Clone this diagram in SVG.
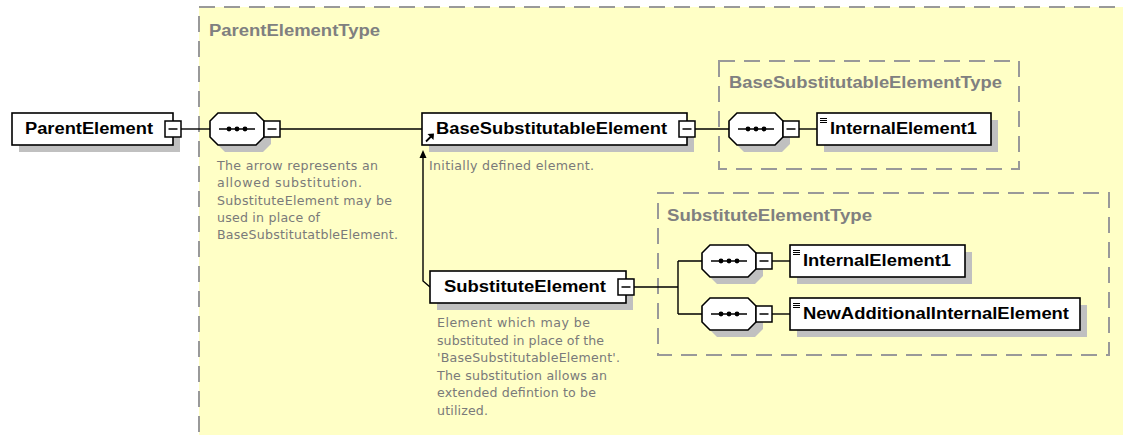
<svg xmlns="http://www.w3.org/2000/svg" xmlns:xlink="http://www.w3.org/1999/xlink" width="1123" height="435" viewBox="0 0 1123 435">
<style>
.type{fill:#ffffc6;stroke:#999;stroke-width:2;stroke-dasharray:16 9}
.typelbl{font-family:"Liberation Sans",Arial,sans-serif;font-weight:bold;font-size:16px;fill:#808080}
.box{fill:#fff;stroke:#000;stroke-width:1.6}
.shadow{fill:#c0c0c0;stroke:none}
.lbl{font-family:"Liberation Sans",Arial,sans-serif;font-weight:bold;font-size:16px;fill:#000}
.desc{font-family:"DejaVu Sans","Liberation Sans",sans-serif;font-size:12.6px;fill:#7a7a7a}
.conn{fill:none;stroke:#000;stroke-width:1.4}
.mbox{fill:#fff;stroke:#000;stroke-width:1.5}
</style>
<defs>
<path id="oct" d="M8,0 H46 L54,8 V24 L46,32 H8 L0,24 V8 Z"/>
<g id="seq">
<use xlink:href="#oct" class="shadow" x="7" y="7"/>
<use xlink:href="#oct" class="box"/>
<line x1="9" y1="16" x2="45" y2="16" stroke="#000" stroke-width="1.4"/>
<circle cx="19" cy="16" r="2.4" fill="#000"/>
<circle cx="27" cy="16" r="2.4" fill="#000"/>
<circle cx="35" cy="16" r="2.4" fill="#000"/>
</g>
<g id="minus">
<rect class="mbox" x="0" y="0" width="16" height="16"/>
<line x1="3.5" y1="8" x2="12.5" y2="8" stroke="#000" stroke-width="1.5"/>
</g>
<g id="simple">
<line x1="0" y1="0.5" x2="7" y2="0.5" stroke="#000" stroke-width="1"/>
<line x1="0" y1="2.5" x2="7" y2="2.5" stroke="#000" stroke-width="1"/>
<line x1="0" y1="4.5" x2="7" y2="4.5" stroke="#000" stroke-width="1"/>
</g>
</defs>
<rect width="1123" height="435" fill="#fff"/>

<g id="ParentElementType">
<rect class="type" x="199" y="7" width="1000" height="500"/>
<text class="typelbl" x="209" y="36" textLength="171" lengthAdjust="spacingAndGlyphs">ParentElementType</text>
</g>
<g id="BaseSubstitutableElementType">
<rect class="type" x="719" y="61" width="300" height="108"/>
<text class="typelbl" x="729" y="88" textLength="273" lengthAdjust="spacingAndGlyphs">BaseSubstitutableElementType</text>
</g>
<g id="SubstituteElementType">
<rect class="type" x="658" y="193" width="451" height="162"/>
<text class="typelbl" x="667" y="221" textLength="205" lengthAdjust="spacingAndGlyphs">SubstituteElementType</text>
</g>

<g id="connectors">
<path class="conn" d="M181,129 H210"/>
<path class="conn" d="M280,129 H422"/>
<path class="conn" d="M695,129 H729"/>
<path class="conn" d="M799,129 H817"/>
<path class="conn" d="M634,287 H678 M678,261 V314 M678,261 H702 M678,314 H702"/>
<path class="conn" d="M772,261 H790"/>
<path class="conn" d="M772,314 H790"/>
<path class="conn" d="M430,287 L423,281 V157"/>
<path d="M423,150 L419.5,158 L426.5,158 Z" fill="#000"/>
</g>

<g id="ParentElement">
<rect class="shadow" x="19" y="120" width="161" height="32"/>
<rect class="box" x="12" y="113" width="161" height="32"/>
<text class="lbl" x="25" y="134" textLength="128" lengthAdjust="spacingAndGlyphs">ParentElement</text>
<use xlink:href="#minus" x="165" y="121"/>
</g>

<g id="seq1">
<use xlink:href="#seq" x="210" y="113"/>
<use xlink:href="#minus" x="264" y="121"/>
<text class="desc" x="217" y="170" textLength="161">The arrow represents an</text>
<text class="desc" x="217" y="187" textLength="145">allowed substitution.</text>
<text class="desc" x="217" y="205" textLength="175">SubstituteElement may be</text>
<text class="desc" x="217" y="222" textLength="103">used in place of</text>
<text class="desc" x="217" y="239" textLength="181">BaseSubstitutatbleElement.</text>
</g>

<g id="BaseSubstitutableElement">
<rect class="shadow" x="429" y="120" width="265" height="32"/>
<rect class="box" x="422" y="113" width="265" height="32"/>
<text class="lbl" x="436" y="134" textLength="231" lengthAdjust="spacingAndGlyphs">BaseSubstitutableElement</text>
<line x1="426" y1="141.5" x2="431" y2="136.5" stroke="#000" stroke-width="1.8"/>
<path d="M434,133.5 L427.5,134 L433.5,140 Z" fill="#000"/>
<use xlink:href="#minus" x="679" y="121"/>
<text class="desc" x="429" y="169.5" textLength="165">Initially defined element.</text>
</g>

<g id="seq2">
<use xlink:href="#seq" x="729" y="113"/>
<use xlink:href="#minus" x="783" y="121"/>
</g>

<g id="InternalElement1">
<rect class="shadow" x="824" y="120" width="174" height="32"/>
<rect class="box" x="817" y="113" width="174" height="32"/>
<use xlink:href="#simple" x="820" y="118"/>
<text class="lbl" x="830" y="134" textLength="147" lengthAdjust="spacingAndGlyphs">InternalElement1</text>
</g>

<g id="SubstituteElement">
<rect class="shadow" x="437" y="278" width="196" height="32"/>
<rect class="box" x="430" y="271" width="196" height="32"/>
<text class="lbl" x="444" y="292" textLength="162" lengthAdjust="spacingAndGlyphs">SubstituteElement</text>
<use xlink:href="#minus" x="618" y="279"/>
<text class="desc" x="437" y="327" textLength="153">Element which may be</text>
<text class="desc" x="437" y="345" textLength="167">substituted in place of the</text>
<text class="desc" x="437" y="362" textLength="183">'BaseSubstitutableElement'.</text>
<text class="desc" x="437" y="380" textLength="170">The substitution allows an</text>
<text class="desc" x="437" y="397" textLength="159">extended defintion to be</text>
<text class="desc" x="437" y="415" textLength="51">utilized.</text>
</g>

<g id="seq3">
<use xlink:href="#seq" x="702" y="245"/>
<use xlink:href="#minus" x="756" y="253"/>
</g>
<g id="seq4">
<use xlink:href="#seq" x="702" y="298"/>
<use xlink:href="#minus" x="756" y="306"/>
</g>

<g id="InternalElement1b">
<rect class="shadow" x="797" y="252" width="175" height="32"/>
<rect class="box" x="790" y="245" width="175" height="32"/>
<use xlink:href="#simple" x="793" y="250"/>
<text class="lbl" x="803" y="266" textLength="148" lengthAdjust="spacingAndGlyphs">InternalElement1</text>
</g>

<g id="NewAdditionalInternalElement">
<rect class="shadow" x="797" y="305" width="290" height="32"/>
<rect class="box" x="790" y="298" width="290" height="32"/>
<use xlink:href="#simple" x="793" y="303"/>
<text class="lbl" x="803" y="319" textLength="266" lengthAdjust="spacingAndGlyphs">NewAdditionalInternalElement</text>
</g>
</svg>
